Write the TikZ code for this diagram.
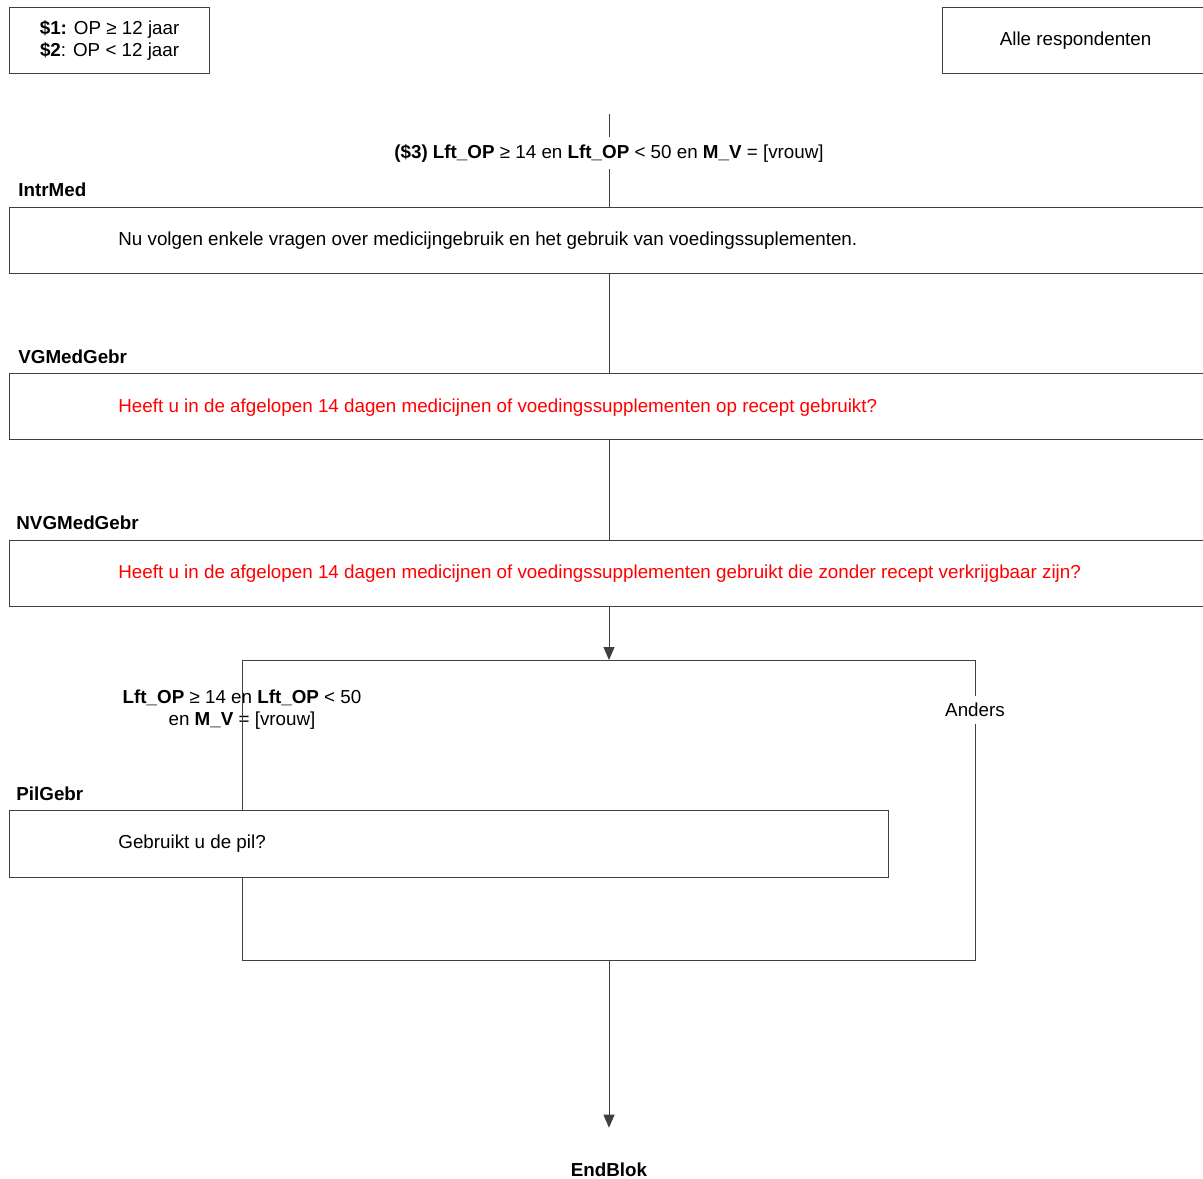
\documentclass[tikz,border=0pt]{standalone}
\usepackage{fontspec}
\setmainfont{Liberation Sans}
\usetikzlibrary{arrows.meta,positioning}
\definecolor{qred}{RGB}{255,0,0}
\definecolor{lijn}{RGB}{64,64,64}

\begin{document}
\begin{tikzpicture}[x=0.5pt, y=-0.5pt,
    font=\fontsize{9.4}{11}\selectfont,
    box/.style={draw=lijn, line width=0.6pt, anchor=north west, minimum height=33pt, inner sep=0pt},
    vraagnaam/.style={font=\fontsize{9.4}{11}\selectfont\bfseries, anchor=west, inner sep=0pt},
    vraag/.style={anchor=west, inner sep=0pt},
    lijnstuk/.style={draw=lijn, line width=0.5pt},
    pijl/.style={lijnstuk, -{Triangle[length=6.5pt,width=5.5pt]}}]
    \useasboundingbox (0,0) rectangle (1203,1178);
    \clip (0,0) rectangle (1203,1178);

    % kop
    \node[box, minimum width=100pt, align=center] (filter) at (9,7) {\textbf{\$1:} OP ≥ 12 jaar\\\textbf{\$2}: OP < 12 jaar};
    \node[box, minimum width=133pt] (alle) at (942,7) {Alle respondenten};

    % IntrMed
    \coordinate (start) at (609,114);
    \node[inner sep=3.5pt] (cond3) at (609,153) {\textbf{(\$3) Lft\_OP} ≥ 14 en \textbf{Lft\_OP} < 50 en \textbf{M\_V} = [vrouw]};
    \node[vraagnaam] (intrmednaam) at (18,190) {IntrMed};
    \node[box, minimum width=616pt] (intrmed) at (9,207) {};
    \node[vraag] (intrmedq) at (118,241) {Nu volgen enkele vragen over medicijngebruik en het gebruik van voedingssuplementen.};
    \draw[lijnstuk] (start) -- (cond3) -- (start |- intrmed.north);

    % VGMedGebr
    \node[vraagnaam] (vgmednaam) at (18,357) {VGMedGebr};
    \node[box, minimum width=616pt] (vgmed) at (9,373) {};
    \node[vraag, text=qred] (vgmedq) at (118,408) {Heeft u in de afgelopen 14 dagen medicijnen of voedingssupplementen op recept gebruikt?};
    \draw[lijnstuk] (start |- intrmed.south) -- (start |- vgmed.north);

    % NVGMedGebr
    \node[vraagnaam] (nvgmednaam) at (16,523) {NVGMedGebr};
    \node[box, minimum width=616pt] (nvgmed) at (9,540) {};
    \node[vraag, text=qred] (nvgmedq) at (118,574) {Heeft u in de afgelopen 14 dagen medicijnen of voedingssupplementen gebruikt die zonder recept verkrijgbaar zijn?};
    \draw[lijnstuk] (start |- vgmed.south) -- (start |- nvgmed.north);

    % splitsing
    \coordinate (splits) at (609,660);
    \coordinate (linksboven) at (242,660);
    \coordinate (rechtsboven) at (975,660);
    \coordinate (linksonder) at (242,960);
    \coordinate (rechtsonder) at (975,960);
    \coordinate (samen) at (609,960);
    \draw[pijl] (start |- nvgmed.south) -- (splits);
    \node (anders) at (975,710) {Anders};
    \node[align=center] (voorw) at (242,710) {\textbf{Lft\_OP} ≥ 14 en \textbf{Lft\_OP} < 50\\en \textbf{M\_V} = [vrouw]};

    % PilGebr
    \node[vraagnaam] (pilgebrnaam) at (16,794) {PilGebr};
    \node[box, minimum width=439.5pt, minimum height=33.5pt] (pilgebr) at (9,810) {};
    \node[vraag] (pilgebrq) at (118,844) {Gebruikt u de pil?};
    \draw[lijnstuk] (linksboven) -- (rechtsboven) -- (anders) -- (rechtsonder) -- (linksonder) -- (linksonder |- pilgebr.south);
    \draw[lijnstuk] (linksboven) -- (linksboven |- pilgebr.north);

    % einde
    \node[vraagnaam, anchor=center] (einde) at (609,1170) {EndBlok};
    \draw[pijl, shorten >=17.5pt] (samen) -- (einde);
\end{tikzpicture}
\end{document}
